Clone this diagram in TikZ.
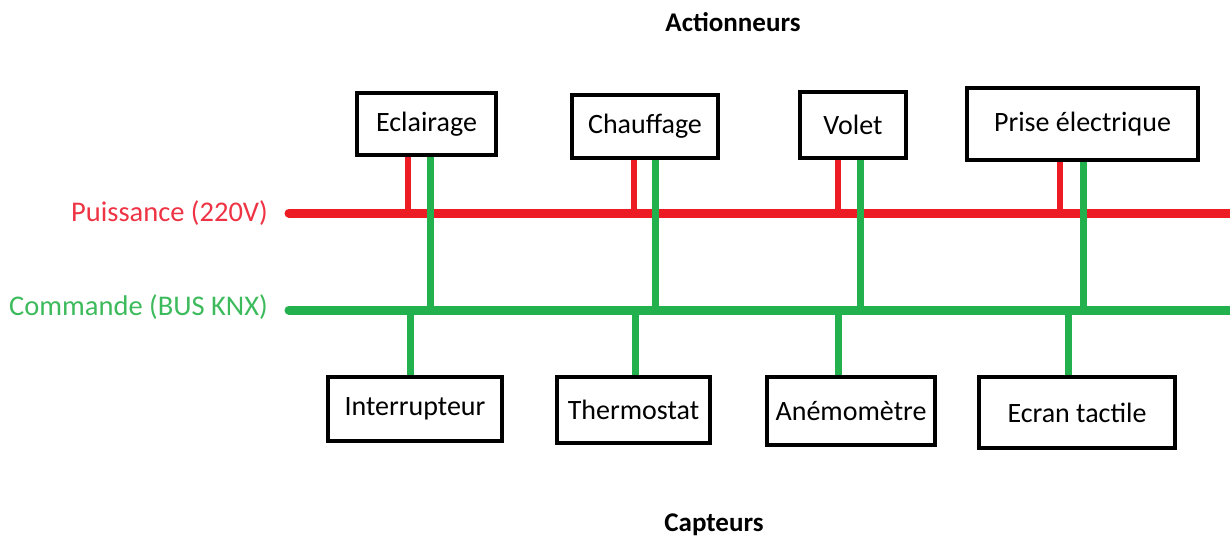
\documentclass[tikz,border=0pt]{standalone}
\usepackage{fontspec}
\setmainfont{Carlito}
\usetikzlibrary{backgrounds}
\definecolor{pred}{HTML}{ED1C24}
\definecolor{pgreen}{HTML}{22B14C}
\definecolor{predtxt}{HTML}{EE3344}
\definecolor{pgreentxt}{HTML}{3DBB5C}
\tikzset{
  box/.style={draw=black, line width=4pt, fill=white, inner sep=0pt, font=\fontsize{28}{32}\selectfont},
  redbus/.style={pred, line width=9pt},
  greenbus/.style={pgreen, line width=9pt},
  redstub/.style={pred, line width=6pt},
  greenstub/.style={pgreen, line width=7pt},
  title/.style={font=\fontsize{27}{31}\selectfont\bfseries},
  buslabel/.style={anchor=east, inner sep=0pt, font=\fontsize{28.5}{32}\selectfont}
}
\begin{document}
\begin{tikzpicture}[x=1pt,y=-1pt]
\useasboundingbox (0,0) rectangle (1230,542);
% titles
\node[title] (act) at (733,22) {Actionneurs};
\node[title] (cap) at (714,525) {Capteurs};
% actuators
\node[box, minimum width=139pt, minimum height=62pt] (E) at (426.5,124) {Eclairage};
\node[box, minimum width=146pt, minimum height=63pt] (C) at (645,126.5) {Chauffage};
\node[box, minimum width=106pt, minimum height=66pt] (V) at (853,125) {Volet};
\node[box, minimum width=231pt, minimum height=72pt] (P) at (1082.5,124) {Prise électrique};
% sensors
\node[box, minimum width=174pt, minimum height=64pt] (I) at (415,409) {Interrupteur};
\node[box, minimum width=153pt, minimum height=66pt] (T) at (633.5,410) {Thermostat};
\node[box, minimum width=168pt, minimum height=68pt] (A) at (851,411) {Anémomètre};
\node[box, minimum width=196pt, minimum height=71pt] (S) at (1077,412.5) {Ecran tactile};
% labels
\node[buslabel, predtxt] (lp) at (268,213) {Puissance (220V)};
\node[buslabel, pgreentxt] (lc) at (268,307) {Commande (BUS KNX)};
% bus coordinates
\coordinate (pL) at (289,213);
\coordinate (pR) at (1230,213);
\coordinate (cL) at (289,310);
\coordinate (cR) at (1230,310);
\coordinate (r1) at (408,213);
\coordinate (r2) at (634,213);
\coordinate (r3) at (838,213);
\coordinate (r4) at (1060,213);
\coordinate (g1) at (430,310);
\coordinate (g2) at (655,310);
\coordinate (g3) at (860,310);
\coordinate (g4) at (1083,310);
\coordinate (s1) at (410,310);
\coordinate (s2) at (635,310);
\coordinate (s3) at (838,310);
\coordinate (s4) at (1068,310);
\begin{pgfonlayer}{background}
\draw[redbus] (pL) -- (pR);
\draw[redbus, line cap=round] (pL) -- ++(5,0);
\draw[redstub] (E.south -| r1) -- (r1);
\draw[redstub] (C.south -| r2) -- (r2);
\draw[redstub] (V.south -| r3) -- (r3);
\draw[redstub] (P.south -| r4) -- (r4);
\draw[greenbus] (cL) -- (cR);
\draw[greenbus, line cap=round] (cL) -- ++(5,0);
\draw[greenstub] (E.south -| g1) -- (g1);
\draw[greenstub] (C.south -| g2) -- (g2);
\draw[greenstub] (V.south -| g3) -- (g3);
\draw[greenstub] (P.south -| g4) -- (g4);
\draw[greenstub] (s1) -- (I.north -| s1);
\draw[greenstub] (s2) -- (T.north -| s2);
\draw[greenstub] (s3) -- (A.north -| s3);
\draw[greenstub] (s4) -- (S.north -| s4);
\end{pgfonlayer}
\end{tikzpicture}
\end{document}
